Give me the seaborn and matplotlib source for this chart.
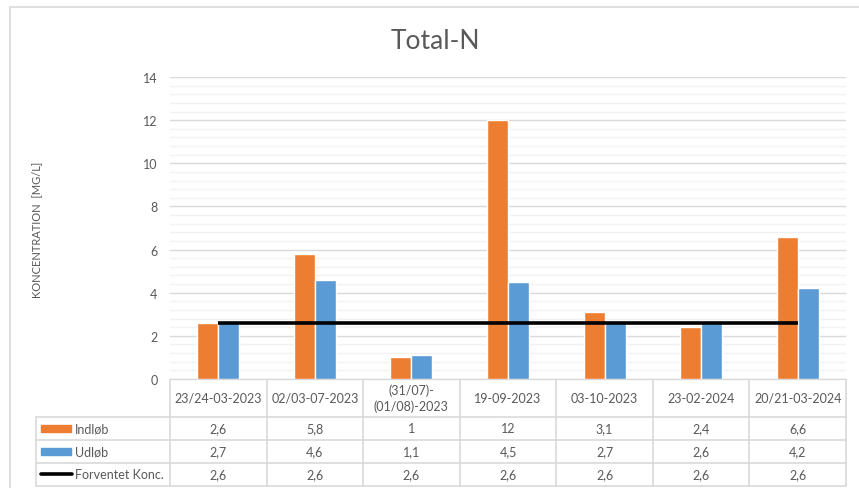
import numpy as np
import pandas as pd
import matplotlib
matplotlib.use("Agg")
import matplotlib.pyplot as plt
from matplotlib.patches import Rectangle
from matplotlib.lines import Line2D
import seaborn as sns

# data
dates = ["23/24-03-2023", "02/03-07-2023", "(31/07)-\n(01/08)-2023", "19-09-2023",
         "03-10-2023", "23-02-2024", "20/21-03-2024"]
indlob = [2.6, 5.8, 1, 12, 3.1, 2.4, 6.6]
udlob = [2.7, 4.6, 1.1, 4.5, 2.7, 2.6, 4.2]
forventet = [2.6, 2.6, 2.6, 2.6, 2.6, 2.6, 2.6]
series_names = ["Indløb", "Udløb", "Forventet Konc."]
y_ticks = [0, 2, 4, 6, 8, 10, 12, 14]

ORANGE = "#ED7D31"
BLUE = "#5B9BD5"
TXT = "#595959"
GRID = "#D9D9D9"
MINOR = "#F2F2F2"

sns.set_theme(style="white")
plt.rcParams["font.family"] = ["Lato", "DejaVu Sans"]

W, H = 859, 489
fig = plt.figure(figsize=(W / 100, H / 100), dpi=100)


def px_axes(x0, y0, x1, y1):
    # axes from pixel box (top-left origin)
    return fig.add_axes([x0 / W, 1 - y1 / H, (x1 - x0) / W, (y1 - y0) / H])


# outer chart border
fig.add_artist(Rectangle((10 / W, -0.05), 1.1, 1 - 8 / H + 0.05, transform=fig.transFigure,
                         fill=False, edgecolor=GRID, lw=1.2))

# bar plot
px_left, px_right, px_top, px_zero = 170, 846, 78, 380
ax = px_axes(px_left, px_top, px_right, px_zero)

df = pd.DataFrame({
    "Dato": dates * 2,
    "Serie": [series_names[0]] * len(dates) + [series_names[1]] * len(dates),
    "Værdi": indlob + udlob,
})
sns.barplot(data=df, x="Dato", y="Værdi", hue="Serie", palette=[ORANGE, BLUE],
            width=0.435, gap=0, ax=ax, legend=False, zorder=3, saturation=1)
ax.plot(np.arange(len(dates)), forventet, color="black", lw=2.6, zorder=4,
        solid_capstyle="butt")

ax.set_xlim(-0.5, len(dates) - 0.5)
ax.set_ylim(0, 14)
ax.set_yticks(y_ticks)
ax.set_yticklabels([str(t) for t in y_ticks], color=TXT, fontsize=9)
ax.set_yticks(np.arange(0, 14.01, 0.4), minor=True)
ax.tick_params(axis="y", which="both", length=0, pad=9)
ax.set_xticks([])
ax.set_xlabel("")
ax.set_ylabel("")
ax.grid(axis="y", which="minor", color=MINOR, lw=1, zorder=0)
ax.grid(axis="y", which="major", color=GRID, lw=1, zorder=0)
for s in ["top", "right", "left"]:
    ax.spines[s].set_visible(False)
ax.spines["bottom"].set_color(GRID)
ax.spines["bottom"].set_linewidth(1)

fig.text(37 / W, 1 - 230 / H, "KONCENTRATION  [MG/L]", rotation=90, ha="center",
         va="center", fontsize=8, color=TXT)
fig.text(435 / W, 1 - 42 / H, "Total-N", ha="center", va="center", fontsize=19, color=TXT)

# data table below the plot
tx = px_axes(10, px_zero, W, H)
tx.set_xlim(10, W)
tx.set_ylim(H, px_zero)
tx.axis("off")
col_w = (px_right - px_left) / len(dates)
row_edges = [px_zero, 418, 441, 464, 487]
lc = dict(color=GRID, lw=1.2)
for i in range(len(dates) + 1):
    xx = px_left + i * col_w
    tx.plot([xx, xx], [px_zero, row_edges[-1]], **lc)
tx.plot([36, 36], [row_edges[1], row_edges[-1]], **lc)
for yy in row_edges[1:]:
    tx.plot([36, px_right], [yy, yy], **lc)

for i, d in enumerate(dates):
    cx = px_left + (i + 0.5) * col_w
    tx.text(cx, (row_edges[0] + row_edges[1]) / 2, d, ha="center", va="center",
            fontsize=9, color=TXT, linespacing=1.3)
    for r, vals in enumerate([indlob, udlob, forventet]):
        txt = f"{vals[i]:g}".replace(".", ",")
        tx.text(cx, (row_edges[r + 1] + row_edges[r + 2]) / 2, txt, ha="center",
                va="center", fontsize=9, color=TXT)

for r, name in enumerate(series_names):
    cy = (row_edges[r + 1] + row_edges[r + 2]) / 2
    if r < 2:
        tx.add_patch(Rectangle((41, cy - 3.5), 30, 7, color=[ORANGE, BLUE][r]))
    else:
        tx.add_line(Line2D([41, 72], [cy, cy], color="black", lw=2.6,
                           solid_capstyle="round"))
    tx.text(75, cy, name, ha="left", va="center", fontsize=9, color=TXT)

fig.savefig("out.png", dpi=100)
